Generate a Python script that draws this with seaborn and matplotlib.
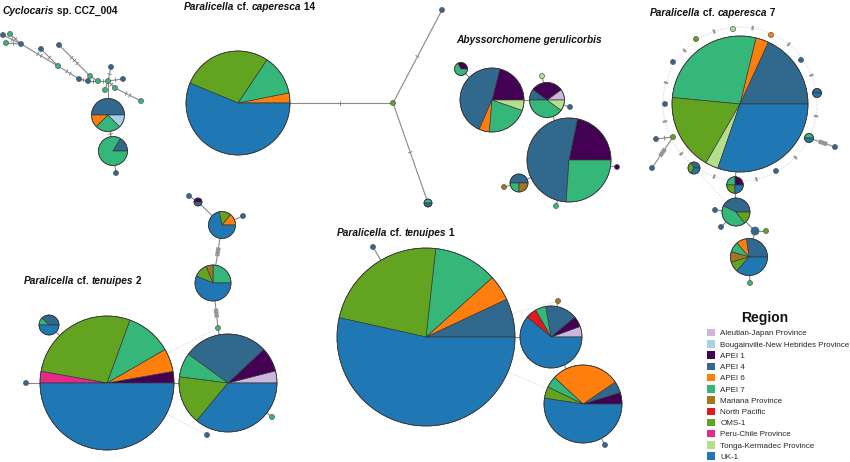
import numpy as np
import matplotlib
matplotlib.use("Agg")
import matplotlib.pyplot as plt
import seaborn as sns
from matplotlib.patches import Wedge, Circle, Patch
from matplotlib import font_manager

# Regions (legend order) and colours
region_codes = ['AJ', 'BNH', 'A1', 'A4', 'A6', 'A7', 'MAR', 'NP', 'OMS', 'PC', 'TK', 'UK']
region_names = ['Aleutian-Japan Province', 'Bougainville-New Hebrides Province', 'APEI 1',
                'APEI 4', 'APEI 6', 'APEI 7', 'Mariana Province', 'North Pacific', 'OMS-1',
                'Peru-Chile Province', 'Tonga-Kermadec Province', 'UK-1']
region_colors = ['#cdb6dd', '#a8d1e7', '#440154', '#31688e', '#ff7f0e', '#35b779',
                 '#a6761d', '#e31a1c', '#62a420', '#e7298a', '#b4e08d', '#1f78b4']

# Haplotype compositions (individuals per region), drawn counter-clockwise from east
cyc_counts = [{'A4': 1}, {'A7': 1}, {'A7': 1}, {'A4': 1}, {'A4': 1}, {'A4': 1}, {'A7': 1},
              {'A4': 1}, {'A4': 1}, {'A7': 1}, {'A7': 1}, {'A7': 1}, {'A4': 1}, {'A4': 1},
              {'A7': 1}, {'A7': 1}, {'A7': 1},
              {'A4': 4, 'A6': 1, 'A7': 2, 'BNH': 1}, {'A4': 1, 'A7': 5}, {'A4': 1}]
cap14_counts = [{'A6': 1, 'A7': 4, 'OMS': 9, 'UK': 18}, {'OMS': 1}, {'A4': 1}, {'A7': 1, 'A4': 1}]
abys_counts = [{'A1': 4, 'A4': 9, 'A6': 1, 'A7': 4, 'TK': 1}, {'A1': 1, 'A7': 2},
               {'AJ': 1, 'A1': 3, 'A4': 1, 'A7': 4, 'TK': 1}, {'TK': 1}, {'A4': 1},
               {'A1': 5, 'A4': 12, 'A7': 6}, {'A1': 1}, {'A7': 1},
               {'A4': 2, 'A7': 1, 'MAR': 1}, {'MAR': 1}]
cap7_counts = [{'A4': 6, 'A6': 1, 'A7': 9, 'OMS': 6, 'TK': 1, 'UK': 10}, {'TK': 1}, {'A6': 1},
               {'A4': 1}, {'A4': 1, 'UK': 1}, {'A7': 1, 'UK': 1}, {'A4': 1}, {'A4': 1},
               {'OMS': 1}, {'A4': 1}, {'A4': 1}, {'OMS': 1}, {'A4': 1}, {'A4': 1},
               {'A4': 1, 'OMS': 1, 'UK': 1}, {'A1': 1, 'A7': 1, 'OMS': 1, 'UK': 1},
               {'A4': 3, 'A7': 3, 'OMS': 1}, {'A4': 1}, {'A4': 1}, {'A4': 1}, {'OMS': 1},
               {'A4': 3, 'A6': 1, 'A7': 1, 'MAR': 1, 'OMS': 1, 'UK': 4}, {'A7': 1}]
ten2_counts = [{'A1': 1, 'A6': 2, 'A7': 4, 'OMS': 10, 'PC': 1, 'UK': 18},
               {'A4': 3, 'A7': 1, 'UK': 4}, {'A4': 1},
               {'AJ': 1, 'A1': 2, 'A4': 7, 'A7': 2, 'OMS': 4, 'UK': 9},
               {'A7': 1}, {'A4': 1}, {'A7': 1},
               {'A7': 4, 'MAR': 1, 'OMS': 2, 'UK': 9}, {'A6': 1, 'OMS': 1, 'UK': 5},
               {'A1': 1, 'A4': 1}, {'A4': 1}, {'A4': 1}]
ten1_counts = [{'A4': 3, 'A6': 2, 'A7': 5, 'OMS': 10, 'UK': 23}, {'A4': 1},
               {'AJ': 1, 'A1': 1, 'A4': 3, 'A7': 1, 'NP': 1, 'UK': 11}, {'MAR': 1},
               {'A1': 1, 'A4': 1, 'A6': 6, 'A7': 1, 'OMS': 1, 'UK': 11}, {'A4': 1}]

# Network links (node a, node b, mutation steps) and unresolved (dotted) links
cyc_links = [(0, 3, 1), (1, 3, 1), (2, 3, 1), (3, 6, 2), (4, 6, 1), (6, 7, 2), (5, 9, 3),
             (7, 8, 1), (8, 10, 1), (9, 10, 0), (10, 11, 1), (11, 12, 1), (11, 13, 1),
             (11, 14, 0), (11, 15, 1), (15, 16, 2), (11, 17, 0), (17, 18, 1), (18, 19, 0)]
cap14_links = [(0, 1, 1), (1, 2, 1), (1, 3, 1)]
abys_links = [(0, 1, 0), (0, 2, 0), (2, 3, 0), (2, 4, 0), (2, 5, 0), (5, 6, 0), (5, 7, 0),
              (5, 8, 0), (8, 9, 0)]
cap7_links = [(0, 15, 0), (15, 16, 0), (16, 17, 0), (16, 18, 0), (16, 19, 0), (19, 20, 0),
              (19, 21, 0), (21, 22, 0), (11, 12, 1), (11, 13, 6), (5, 6, 6)]
cap7_dotted = [(14, 16)]
cap7_ring = [1, 2, 3, 4, 5, 7, 15, 14, 11, 10, 9, 8]
ten2_links = [(0, 1, 0), (0, 2, 0), (0, 3, 0), (3, 4, 0), (3, 6, 0), (6, 7, 6), (7, 8, 6),
              (8, 9, 0), (9, 10, 0), (8, 11, 0)]
ten2_dotted = [(0, 6), (0, 5)]
ten1_links = [(0, 1, 0), (0, 2, 0), (2, 3, 0), (2, 4, 0), (4, 5, 0)]
ten1_dotted = [(0, 4), (0, 3)]

# ---- layout (pixel coordinates of the network drawing: x, y, radius) ----
cyc_layout = [(3, 35, 2.5), (10, 34, 2.5), (6, 43, 2.5), (21, 44, 2.5), (41, 49, 2.5),
              (59, 45, 2.5), (58, 66, 2.5), (79, 79, 2.5), (88, 81, 2.5), (90, 76, 2.5),
              (98, 81, 2.5), (108, 81, 2.5), (111, 67, 2.5), (123, 79, 2.5), (105, 90, 2.5),
              (115, 88, 2.5), (141, 101, 2.5), (108, 115, 16.5), (113, 151, 14.5),
              (116, 173, 2.5)]
cap14_layout = [(238, 103, 52), (393, 103, 2.5), (442, 10, 2.5), (428, 203, 4)]
abys_layout = [(492, 100, 32), (461, 69, 6.5), (547, 100, 17.5), (542, 76, 2.5),
               (570, 107, 2.5), (569, 160, 42), (617, 167, 2.5), (556, 206, 2.5),
               (519, 183, 9), (504, 187, 2.5)]
cap7_layout = [(740, 104, 68), (733, 29, 2.5), (771, 35, 2.5), (801, 60, 2.5), (817, 93, 4.5),
               (809, 138, 4.5), (835, 147, 2.5), (776, 171, 2.5), (696, 39, 2.5),
               (673, 62, 2.5), (665, 104, 2.5), (673, 137, 2.5), (656, 139, 2.5),
               (652, 168, 2.5), (694, 168, 6), (735, 185, 8.3), (736, 212, 14),
               (715, 210, 2.5), (721, 227, 2.5), (755, 231, 4), (766, 231, 2.5),
               (749, 257, 18.5), (750, 283, 2.5)]
ten2_layout = [(107, 383, 67), (49, 325, 10), (26, 383, 2.5), (228, 383, 49), (272, 417, 2.5),
               (207, 435, 2.5), (218, 328, 2.5), (213, 283, 18), (222, 225, 13.5),
               (198, 202, 4), (189, 196, 2.5), (243, 216, 2.5)]
ten1_layout = [(426, 337, 89), (373, 247, 2.5), (551, 337, 31), (558, 301, 2.5),
               (583, 404, 39), (605, 445, 2.5)]

color_of = dict(zip(region_codes, region_colors))

sns.set_theme(style="white")
available = {f.name for f in font_manager.fontManager.ttflist}
narrow = 'Liberation Sans Narrow' if 'Liberation Sans Narrow' in available else 'Liberation Sans'
plt.rcParams['font.family'] = ['Liberation Sans', 'DejaVu Sans']

fig = plt.figure(figsize=(8.5, 4.62), dpi=100)
ax = fig.add_axes([0, 0, 1, 1])
ax.set_xlim(0, 850)
ax.set_ylim(462, 0)
ax.axis('off')

EDGE = '#888888'


def draw_pie(x, y, r, comp):
    total = sum(comp.values())
    start = 0.0
    if len(comp) == 1:
        code = list(comp)[0]
        ax.add_patch(Circle((x, y), r, facecolor=color_of[code], edgecolor='#555555',
                            lw=0.5, zorder=3))
        return
    for code, n in comp.items():
        ang = 360.0 * n / total
        # y axis is inverted: negate angles so wedges run counter-clockwise on screen
        ax.add_patch(Wedge((x, y), r, -(start + ang), -start, facecolor=color_of[code],
                           edgecolor='#333333', lw=0.45, zorder=3))
        start += ang
    ax.add_patch(Circle((x, y), r, fill=False, edgecolor='#333333', lw=0.5, zorder=4))


def draw_ticks(p, u, n):
    perp = np.array([-u[1], u[0]])
    if n >= 4:
        a, b = p - u * 4.5, p + u * 4.5
        ax.plot([a[0], b[0]], [a[1], b[1]], color='#aaaaaa', lw=3.2, zorder=2,
                solid_capstyle='butt')
        for k in np.linspace(-3.5, 3.5, n):
            q = p + u * k
            ax.plot([q[0] - perp[0] * 1.6, q[0] + perp[0] * 1.6],
                    [q[1] - perp[1] * 1.6, q[1] + perp[1] * 1.6], color='#777777', lw=0.4, zorder=2)
        return
    for k in np.linspace(-(n - 1) * 2, (n - 1) * 2, n):
        q = p + u * k
        ax.plot([q[0] - perp[0] * 2, q[0] + perp[0] * 2],
                [q[1] - perp[1] * 2, q[1] + perp[1] * 2], color='#777777', lw=0.6, zorder=2)


def draw_network(layout, counts, links, dotted=()):
    for a, b in dotted:
        (xa, ya, _), (xb, yb, _) = layout[a], layout[b]
        ax.plot([xa, xb], [ya, yb], color='#cfcfcf', lw=0.7, ls=':', zorder=1)
    for a, b, steps in links:
        (xa, ya, ra), (xb, yb, rb) = layout[a], layout[b]
        ax.plot([xa, xb], [ya, yb], color=EDGE, lw=0.8, zorder=1)
        if steps:
            pa, pb = np.array([xa, ya]), np.array([xb, yb])
            d = np.linalg.norm(pb - pa)
            u = (pb - pa) / d
            mid = pa + u * (ra + (d - ra - rb) / 2)
            draw_ticks(mid, u, steps)
    for (x, y, r), comp in zip(layout, counts):
        draw_pie(x, y, r, comp)


def draw_ring(layout, members):
    cx, cy, _ = layout[0]
    angs = sorted(np.degrees(np.arctan2(-(layout[m][1] - cy), layout[m][0] - cx)) % 360
                  for m in members)
    rad = np.mean([np.hypot(layout[m][0] - cx, layout[m][1] - cy) for m in members])
    ax.add_patch(Circle((cx, cy), rad, fill=False, edgecolor='#c8c8c8', lw=0.7, ls=':',
                        zorder=1))
    for a0, a1 in zip(angs, angs[1:] + [angs[0] + 360]):
        t = np.radians((a0 + a1) / 2)
        ux, uy = np.cos(t), -np.sin(t)
        ax.plot([cx + ux * (rad - 2.2), cx + ux * (rad + 2.2)],
                [cy + uy * (rad - 2.2), cy + uy * (rad + 2.2)], color='#999999', lw=1.6,
                zorder=2, solid_capstyle='butt')


draw_network(cyc_layout, cyc_counts, cyc_links)
draw_network(cap14_layout, cap14_counts, cap14_links)
draw_network(abys_layout, abys_counts, abys_links)
draw_ring(cap7_layout, cap7_ring)
draw_network(cap7_layout, cap7_counts, cap7_links, cap7_dotted)
draw_network(ten2_layout, ten2_counts, ten2_links, ten2_dotted)
draw_network(ten1_layout, ten1_counts, ten1_links, ten1_dotted)

# Network titles (mixed italic / upright, all bold)
renderer = fig.canvas.get_renderer()


def mixed_title(x, y, parts, size=7.3):
    for s, italic in parts:
        t = ax.text(x, y, s, fontsize=size, fontweight='bold',
                    style='italic' if italic else 'normal', ha='left', va='baseline',
                    color='#111111')
        bb = t.get_window_extent(renderer)
        x = ax.transData.inverted().transform((bb.x1, bb.y0))[0]


mixed_title(3, 14, [('Cyclocaris', True), (' sp. CCZ_004', False)])
mixed_title(184, 10, [('Paralicella', True), (' cf. ', False), ('caperesca', True), (' 14', False)])
mixed_title(456, 43, [('Abyssorchomene gerulicorbis', True)])
mixed_title(650, 16, [('Paralicella', True), (' cf. ', False), ('caperesca', True), (' 7', False)])
mixed_title(24, 284, [('Paralicella', True), (' cf. ', False), ('tenuipes', True), (' 2', False)])
mixed_title(337, 236, [('Paralicella', True), (' cf. ', False), ('tenuipes', True), (' 1', False)])

# Legend
ax.text(765, 318, 'Region', fontsize=10, fontweight='bold', family=narrow,
        ha='center', va='center', color='#111111')
handles = [Patch(facecolor=c, edgecolor='none', label=n)
           for n, c in zip(region_names, region_colors)]
leg = ax.legend(handles=handles, loc='upper left',
                bbox_to_anchor=(707 / 850, 1 - 329 / 462), bbox_transform=fig.transFigure,
                frameon=False, prop={'family': narrow, 'size': 5.8},
                handlelength=1.05, handleheight=1.05, handletextpad=0.6,
                labelspacing=0.34, borderpad=0, borderaxespad=0)

fig.savefig('out.png', dpi=100)
